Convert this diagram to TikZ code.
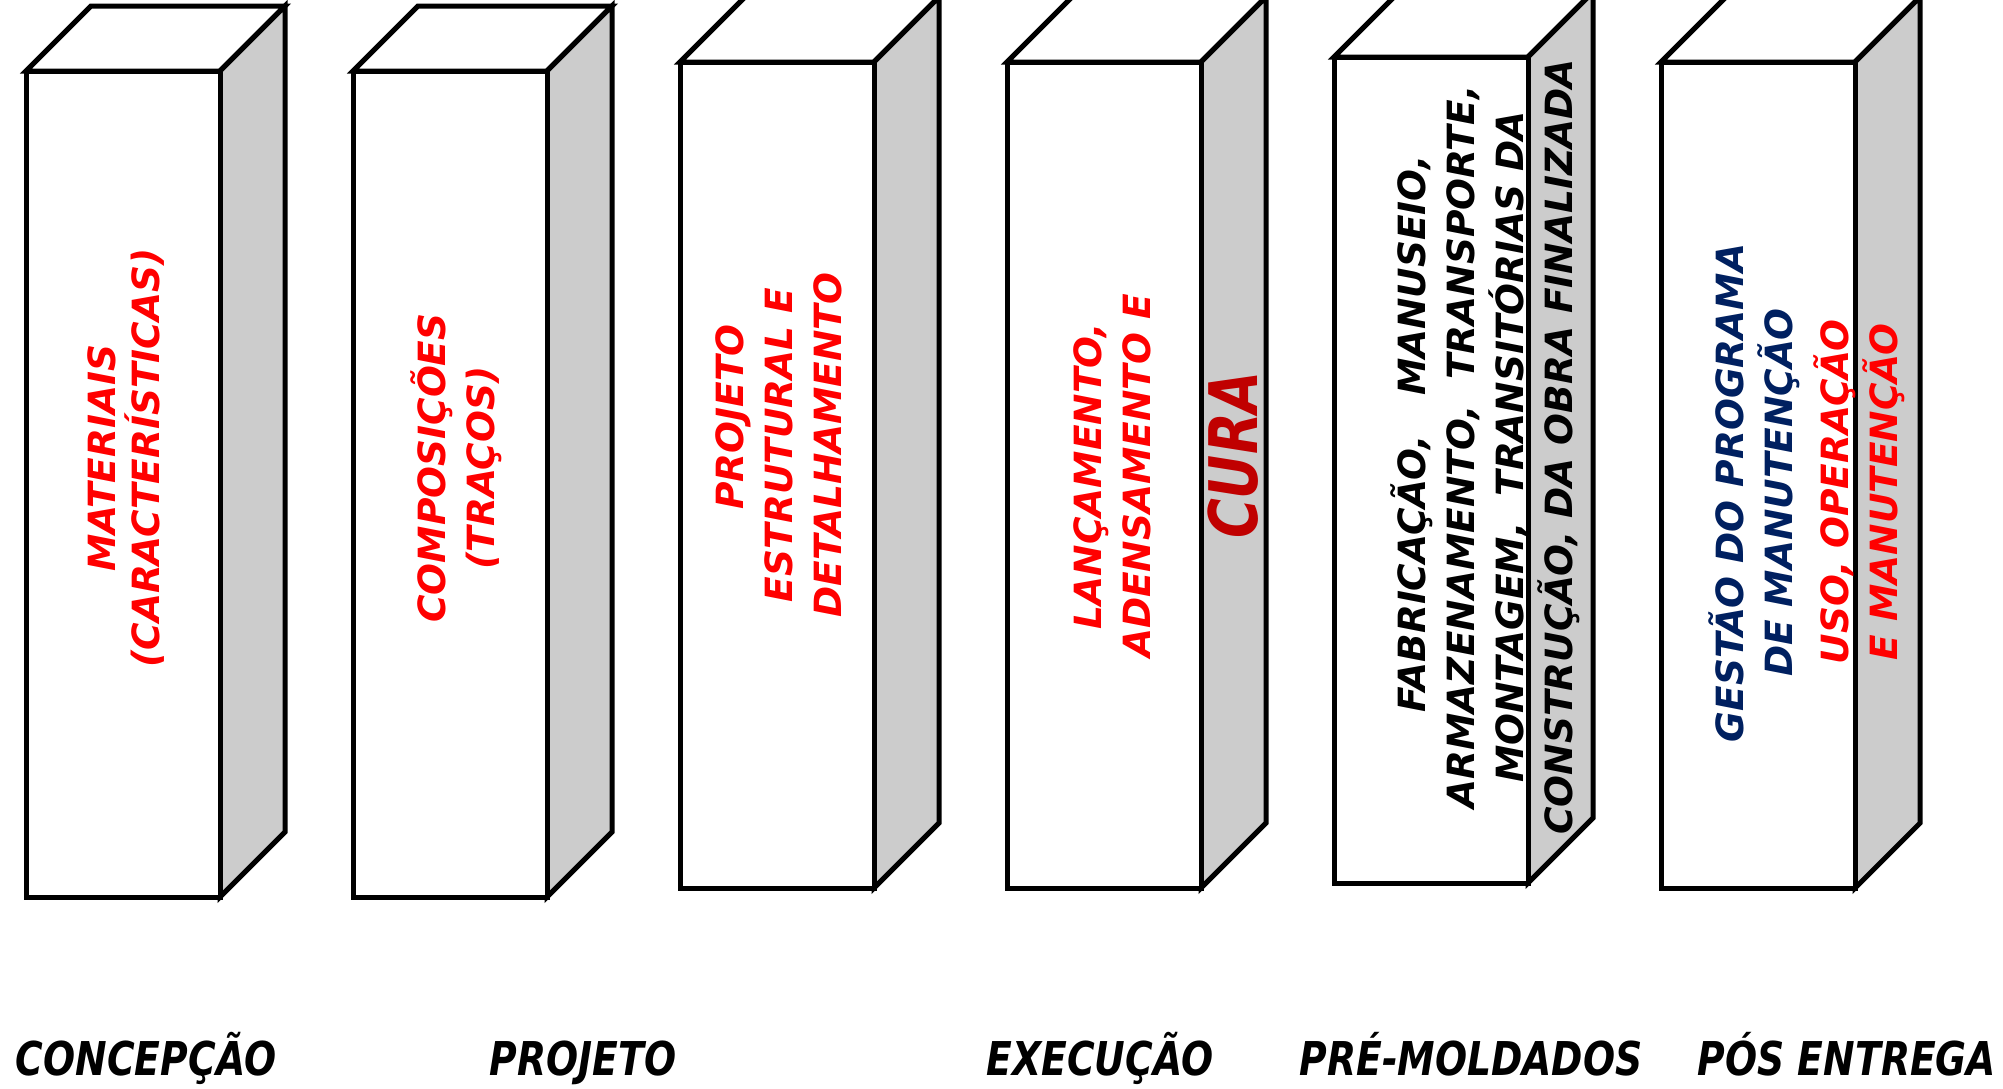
\documentclass[tikz,border=0pt]{standalone}
\usepackage{fontspec}
\setmainfont{DejaVu Sans}
\newfontfamily\narrowfont[FakeStretch=0.81]{DejaVu Sans}
\definecolor{sidegray}{HTML}{CCCCCC}
\definecolor{navy}{HTML}{002060}
\definecolor{curared}{HTML}{C00000}
\begin{document}
\begin{tikzpicture}[x=1pt,y=-1pt,
  prismline/.style={line width=5pt, line join=miter},
  boxtext/.style={rotate=90, align=center, font=\fontsize{37.5}{49}\selectfont\bfseries\itshape, inner sep=0pt},
  curatext/.style={rotate=90, font=\narrowfont\fontsize{67}{70}\selectfont\bfseries\itshape, inner sep=0pt, text=curared},
  stagelabel/.style={anchor=base, font=\narrowfont\fontsize{46.6}{50}\selectfont\bfseries\itshape, inner sep=0pt},
  prism/.pic={
    \filldraw[prismline, fill=white] (0,0) -- (65,-65) -- (259,-65) -- (194,0) -- cycle;
    \filldraw[prismline, fill=sidegray] (194,0) -- (259,-65) -- (259,761) -- (194,826) -- cycle;
    \filldraw[prismline, fill=white] (0,0) rectangle (194,826);
  }]
\useasboundingbox (0,0) rectangle (2003,1088);
\fill[white] (0,0) rectangle (2003,1088);
\begin{scope}
\clip (0,0) rectangle (2003,1088);
\pic at (26,71) {prism};
\pic at (353,71) {prism};
\pic at (680,62) {prism};
\pic at (1007,62) {prism};
\pic at (1334,57) {prism};
\pic at (1661,62) {prism};
\end{scope}

\node[boxtext, text=red, font=\fontsize{37.5}{44}\selectfont\bfseries\itshape] (t1) at (126,458) {MATERIAIS\\(CARACTERÍSTICAS)};
\node[boxtext, text=red] (t2) at (456,468) {COMPOSIÇÕES\\(TRAÇOS)};
\node[boxtext, text=red] (t3) at (779,445) {\hspace*{56pt}PROJETO\\ESTRUTURAL E\\DETALHAMENTO};
\node[boxtext, text=red] (t4) at (1112,476) {LANÇAMENTO,\\ADENSAMENTO E};
\node[curatext] (t4b) at (1233,455) {CURA};
\node[boxtext, text=black] (t5) at (1485,447) {\hspace*{26pt}FABRICAÇÃO,\ \ \ MANUSEIO,\\ARMAZENAMENTO,\ \ TRANSPORTE,\\MONTAGEM,\ \ TRANSITÓRIAS DA\\CONSTRUÇÃO,\ DA OBRA FINALIZADA};
\node[boxtext, text=navy] (t6a) at (1754,493) {GESTÃO DO PROGRAMA\\DE MANUTENÇÃO};
\node[boxtext, text=red] (t6b) at (1859,492) {USO,\ OPERAÇÃO\\E MANUTENÇÃO};

\node[stagelabel] (l1) at (146,1075) {CONCEPÇÃO};
\node[stagelabel] (l2) at (583,1075) {PROJETO};
\node[stagelabel] (l3) at (1100,1075) {EXECUÇÃO};
\node[stagelabel] (l4) at (1471,1075) {PRÉ-MOLDADOS};
\node[stagelabel] (l5) at (1847,1075) {PÓS ENTREGA};
\end{tikzpicture}
\end{document}
